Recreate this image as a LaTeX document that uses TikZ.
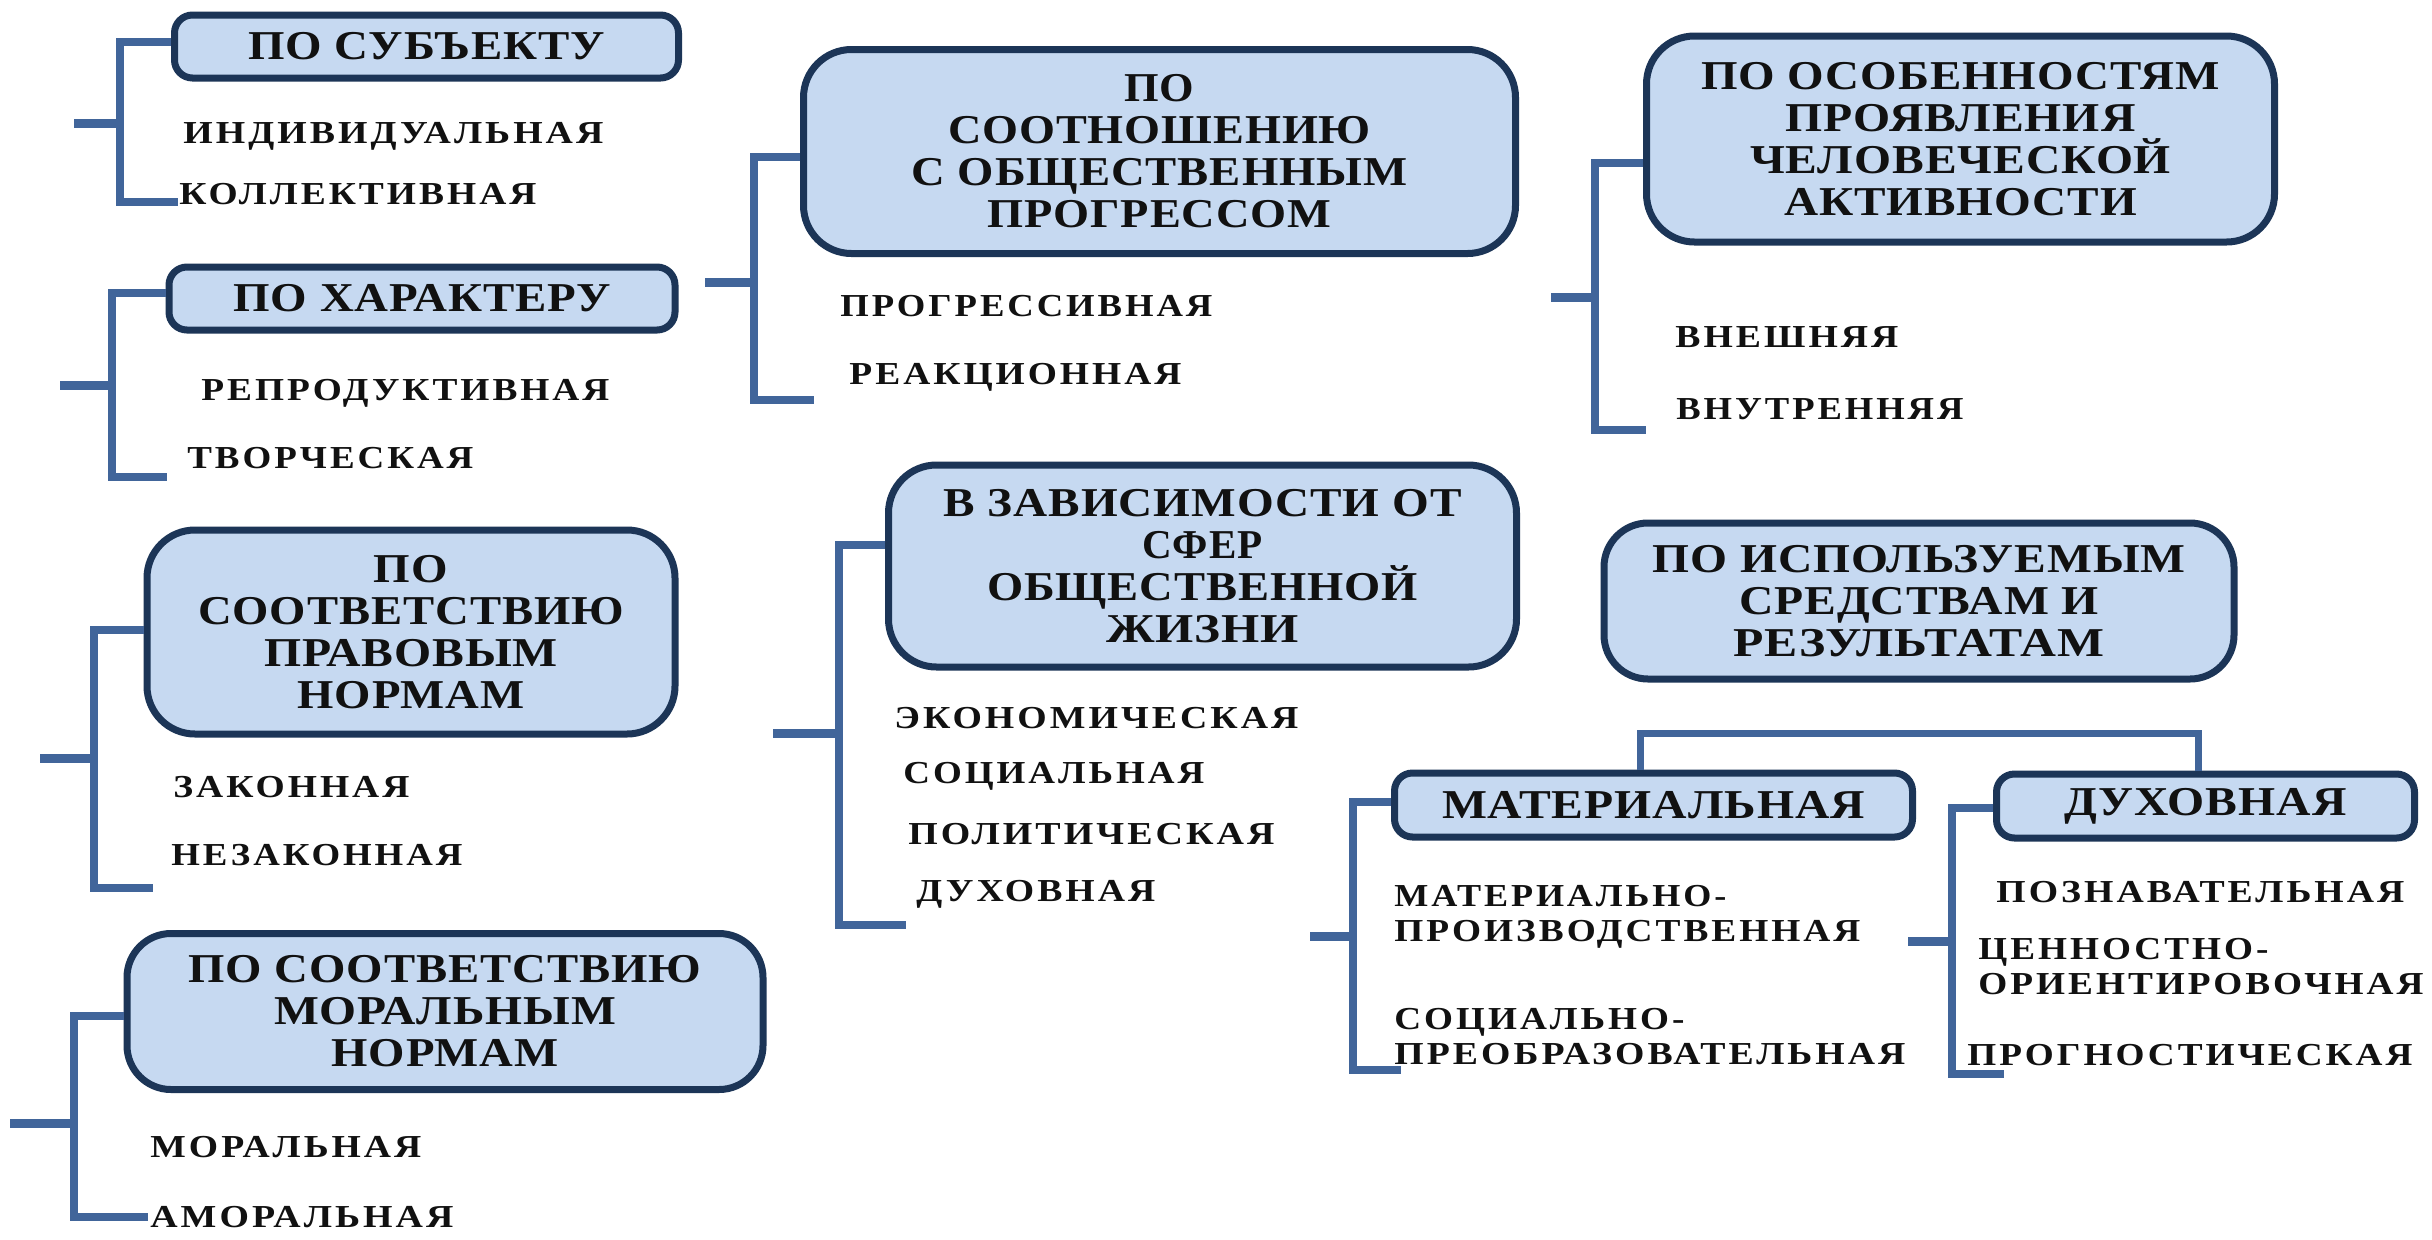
\documentclass[tikz,border=0pt]{standalone}
\usepackage{fontspec}
\setmainfont{Liberation Serif}
\newfontfamily\itemfam{Liberation Serif}[LetterSpace=8]
\newfontfamily\headfam{Liberation Serif}[LetterSpace=2]
\usepackage{graphicx}
\definecolor{boxfill}{HTML}{C6D9F1}
\definecolor{boxline}{HTML}{1C3557}
\definecolor{brkcol}{HTML}{41659A}
\definecolor{txt}{HTML}{111111}
\newsavebox\fitbox
\newlength\fitlen
\newcommand\fitto[2]{\sbox\fitbox{#2}\setlength\fitlen{\wd\fitbox}\pgfmathsetmacro\fitfac{#1*0.5/\fitlen}\scalebox{\fitfac}[1]{\usebox\fitbox}}
\tikzset{
  hbox/.style={draw=boxline, fill=boxfill, line width=3.5pt, rounded corners=#1, inner sep=0pt, align=center, text=txt,
    font=\headfam\bfseries\fontsize{20.5pt}{21pt}\selectfont},
  hbox/.default=9pt,
  itemtxt/.style={anchor=base west, inner sep=0pt, text=txt, font=\itemfam\bfseries\fontsize{16pt}{17pt}\selectfont},
  brk/.style={draw=brkcol, line width=4pt},
  tick/.style={draw=brkcol, line width=4.5pt}
}
\newcommand\IT[5]{\node[itemtxt] (#1) at (#2,#3) {\fitto{#4}{#5}};}
\begin{document}
\begin{tikzpicture}[x=0.5pt,y=-0.5pt]
\path[fill=white, use as bounding box] (0,0) rectangle (2432,1239);

% ---------- heading boxes ----------
\node[hbox, minimum width=252pt, minimum height=31.5pt] (box1) at (426.5,46.5) {\fitto{357}{ПО СУБЪЕКТУ}};
\node[hbox, minimum width=253pt, minimum height=31.5pt] (box2) at (422,298.5) {\fitto{377}{ПО ХАРАКТЕРУ}};
\node[hbox=24pt, minimum width=264pt, minimum height=102pt] (box3) at (411,632)
  {\fitto{74}{ПО}\\\fitto{426}{СООТВЕТСТВИЮ}\\\fitto{294}{ПРАВОВЫМ}\\\fitto{227}{НОРМАМ}};
\node[hbox=22pt, minimum width=318pt, minimum height=78pt] (box4) at (445,1011.5)
  {\fitto{513}{ПО СООТВЕТСТВИЮ}\\\fitto{342}{МОРАЛЬНЫМ}\\\fitto{227}{НОРМАМ}};
\node[hbox=24pt, minimum width=356pt, minimum height=102pt] (box5) at (1159.5,151.5)
  {\fitto{70}{ПО}\\\fitto{423}{СООТНОШЕНИЮ}\\\fitto{496}{С ОБЩЕСТВЕННЫМ}\\\fitto{344}{ПРОГРЕССОМ}};
\node[hbox=24pt, minimum width=314pt, minimum height=101pt] (box6) at (1202.5,566)
  {\fitto{518}{В ЗАВИСИМОСТИ ОТ}\\\fitto{120}{СФЕР}\\\fitto{431}{ОБЩЕСТВЕННОЙ}\\\fitto{193}{ЖИЗНИ}};
\node[hbox=24pt, minimum width=314pt, minimum height=103pt] (box7) at (1960.5,139)
  {\fitto{519}{ПО ОСОБЕННОСТЯМ}\\\fitto{350}{ПРОЯВЛЕНИЯ}\\\fitto{421}{ЧЕЛОВЕЧЕСКОЙ}\\\fitto{353}{АКТИВНОСТИ}};
\node[hbox=22pt, minimum width=315pt, minimum height=78pt] (box8) at (1919,601)
  {\fitto{533}{ПО ИСПОЛЬЗУЕМЫМ}\\\fitto{360}{СРЕДСТВАМ И}\\\fitto{371}{РЕЗУЛЬТАТАМ}};
\node[hbox, minimum width=259pt, minimum height=32pt] (box9) at (1653.5,805) {\fitto{423}{МАТЕРИАЛЬНАЯ}};
\node[hbox, minimum width=209pt, minimum height=32pt] (box10) at (2205.5,806) {\fitto{282}{ДУХОВНАЯ}};

% ---------- items ----------
\IT{i1}{183}{143}{420}{ИНДИВИДУАЛЬНАЯ}
\IT{i2}{179}{204}{357}{КОЛЛЕКТИВНАЯ}
\IT{i3}{201}{400}{408}{РЕПРОДУКТИВНАЯ}
\IT{i4}{187}{468}{286}{ТВОРЧЕСКАЯ}
\IT{i5}{173}{797}{236}{ЗАКОННАЯ}
\IT{i6}{171}{865}{291}{НЕЗАКОННАЯ}
\IT{i7}{150}{1157}{271}{МОРАЛЬНАЯ}
\IT{i8}{150}{1227}{303}{АМОРАЛЬНАЯ}
\IT{i9}{840}{316}{372}{ПРОГРЕССИВНАЯ}
\IT{i10}{849}{384}{332}{РЕАКЦИОННАЯ}
\IT{i11}{894}{728}{404}{ЭКОНОМИЧЕСКАЯ}
\IT{i12}{903}{783}{301}{СОЦИАЛЬНАЯ}
\IT{i13}{908}{844}{366}{ПОЛИТИЧЕСКАЯ}
\IT{i14}{916}{901}{239}{ДУХОВНАЯ}
\IT{i15}{1675}{347}{223}{ВНЕШНЯЯ}
\IT{i16}{1676}{419}{287}{ВНУТРЕННЯЯ}
\IT{i17a}{1394}{906}{332}{МАТЕРИАЛЬНО-}
\IT{i17b}{1394}{941}{466}{ПРОИЗВОДСТВЕННАЯ}
\IT{i18a}{1394}{1029}{290}{СОЦИАЛЬНО-}
\IT{i18b}{1394}{1064}{511}{ПРЕОБРАЗОВАТЕЛЬНАЯ}
\IT{i19}{1996}{902}{408}{ПОЗНАВАТЕЛЬНАЯ}
\IT{i20a}{1978}{959}{290}{ЦЕННОСТНО-}
\IT{i20b}{1978}{994}{445}{ОРИЕНТИРОВОЧНАЯ}
\IT{i21}{1967}{1065}{445}{ПРОГНОСТИЧЕСКАЯ}

% ---------- brackets ----------
% name, node, top y, vertical x, bottom y, end x, tick x, tick y
\newcommand\BR[8]{%
  \coordinate (#1t) at (0,#3);
  \coordinate (#1b) at (#4,#5);
  \coordinate (#1e) at (#6,#5);
  \coordinate (#1k) at (#7,#8);
  \draw[brk] (#2.west |- #1t) -| (#1b) -- (#1e);
  \draw[tick] (#1k) -- (#1k -| #1b);}
\BR{bA}{box1}{42}{120}{202}{178}{74}{123}
\BR{bB}{box2}{293}{112}{477}{167}{60}{385}
\BR{bC}{box3}{630}{94}{888}{153}{40}{758}
\BR{bD}{box4}{1016}{74}{1217}{148}{10}{1123}
\BR{bE}{box5}{157}{754}{400}{814}{705}{282}
\BR{bF}{box6}{545}{839}{925}{906}{773}{733}
\BR{bG}{box7}{163}{1595}{430}{1646}{1551}{297}
\BR{bH}{box9}{802}{1353}{1070}{1401}{1310}{936}
\BR{bI}{box10}{808}{1952}{1074}{2004}{1908}{941}

% ---------- split connector under box8 ----------
\coordinate (split) at (1900,733);
\draw[brk, line width=3.5pt] (box9.north -| 1640,0) |- (split) -| (box10.north -| 2198,0);
\end{tikzpicture}
\end{document}
